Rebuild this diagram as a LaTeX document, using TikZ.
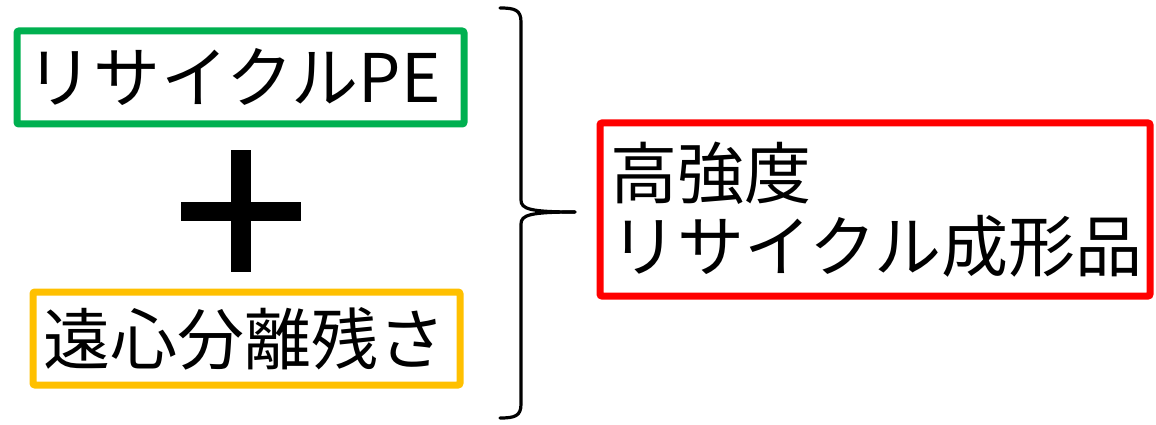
\documentclass[tikz,border=0pt]{standalone}
\usepackage{fontspec}
\newfontfamily\jp{Noto Sans CJK JP}
\definecolor{boxgreen}{HTML}{00B050}
\definecolor{boxyellow}{HTML}{FFC000}
\definecolor{boxred}{HTML}{FF0000}
\tikzset{
  framebox/.style={draw, line width=7pt, rounded corners=2pt, anchor=north west,
    inner xsep=10pt, inner ysep=0pt, outer sep=0pt, align=left,
    font=\jp\fontsize{67}{73}\selectfont},
  bracepath/.style={line width=3.2pt, line cap=round, line join=round},
}
\begin{document}
\begin{tikzpicture}[x=1pt,y=-1pt]
\useasboundingbox (0,0) rectangle (1156,425);
\node[framebox, draw=boxgreen, minimum width=447pt, minimum height=93pt, text width=427pt] (pe) at (17,31) {リサイクルPE};
\node[framebox, draw=boxyellow, minimum width=427pt, minimum height=93pt, text width=407pt] (res) at (33,292) {遠心分離残さ};
\node[framebox, draw=boxred, minimum width=550pt, minimum height=173pt, text width=530pt] (prod) at (600,123) {高強度\\リサイクル成形品};
% plus sign
\fill (231,150) rectangle (251,272);
\fill (181,202) rectangle (301,221);
% brace
\coordinate (btop) at (500,8);
\coordinate (bbot) at (500,418);
\coordinate (btip) at (575,212);
\draw[bracepath] (btop) .. controls (515,8) and (521,10) .. (521,22) -- (521,200)
  .. controls (521,209) and (530,212) .. (btip);
\draw[bracepath] (btip) .. controls (530,212) and (521,215) .. (521,224) -- (521,404)
  .. controls (521,416) and (515,418) .. (bbot);
\end{tikzpicture}
\end{document}
